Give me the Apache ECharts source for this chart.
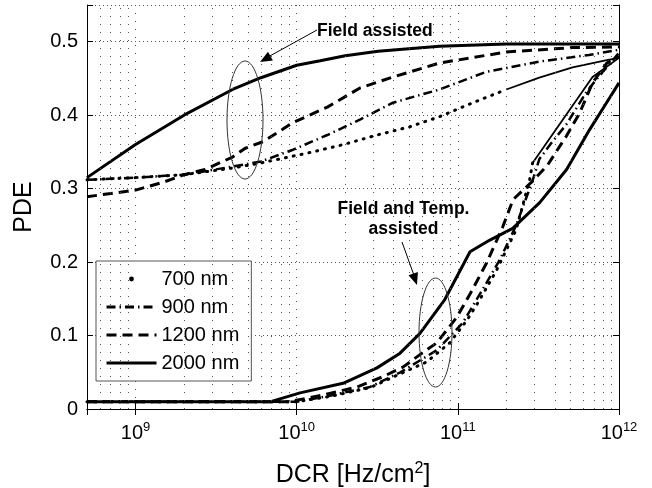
<!DOCTYPE html>
<html>
<head>
<meta charset="utf-8">
<script src="https://cdn.jsdelivr.net/npm/echarts@6/dist/echarts.min.js"></script>
<style>
html, body { margin: 0; padding: 0; background: #fff; }
#chart { width: 652px; height: 488px; }
</style>
</head>
<body>
<div id="chart"></div>
<script>
// axis range
const xMin = 5e8
const xMax = 1e12
const yTicks = [0, 0.1, 0.2, 0.3, 0.4, 0.5]

// field assisted (upper group)
const upper700 = [[5e8, 0.312], [1e9, 0.315], [2e9, 0.319], [4e9, 0.328], [6e9, 0.335], [1.2e10, 0.349], [1.95e10, 0.36], [3.15e10, 0.373], [5e10, 0.384], [7.7e10, 0.398], [1.24e11, 0.417], [2e11, 0.435]]
const upper700dense = [[2e11, 0.435], [3.2e11, 0.451], [5.15e11, 0.465], [8.4e11, 0.475], [1e12, 0.478]]
const upper900 = [[5e8, 0.312], [1e9, 0.315], [2e9, 0.319], [4e9, 0.33], [6e9, 0.337], [9.5e9, 0.353], [1.55e10, 0.373], [2.47e10, 0.394], [3.96e10, 0.417], [7.7e10, 0.435], [1.5e11, 0.459], [3.2e11, 0.473], [6.5e11, 0.482], [1e12, 0.489]]
const upper1200 = [[5e8, 0.289], [1e9, 0.298], [1.5e9, 0.309], [2e9, 0.319], [2.7e9, 0.326], [4e9, 0.343], [4.8e9, 0.355], [6.2e9, 0.364], [9.5e9, 0.39], [1.55e10, 0.411], [2.47e10, 0.437], [3.96e10, 0.452], [7.7e10, 0.471], [2e11, 0.486], [5.15e11, 0.492], [1e12, 0.493]]
const upper2000 = [[5e8, 0.315], [1e9, 0.36], [2e9, 0.4], [4e9, 0.435], [6e9, 0.451], [1e10, 0.468], [1.4e10, 0.474], [2e10, 0.481], [3.2e10, 0.487], [7.7e10, 0.494], [2e11, 0.497], [1e12, 0.497]]

// field and temp. assisted (lower group)
const lower700 = [[5e8, 0.01], [1e10, 0.01], [1.6e10, 0.017], [2.85e10, 0.029], [4.4e10, 0.048], [6.4e10, 0.064], [8.9e10, 0.09], [1.14e11, 0.121], [1.37e11, 0.149], [1.74e11, 0.189], [2.3e11, 0.244], [2.79e11, 0.312], [2.91e11, 0.335]]
const lower700dense = [[2.91e11, 0.335], [6.85e11, 0.452], [1e12, 0.478]]
const lower900 = [[5e8, 0.01], [1e10, 0.01], [1.6e10, 0.018], [2.85e10, 0.03], [4.4e10, 0.05], [7.4e10, 0.08], [1.07e11, 0.117], [1.51e11, 0.172], [1.82e11, 0.203], [2.3e11, 0.25], [2.9e11, 0.31], [3.2e11, 0.34], [3.8e11, 0.362], [4.7e11, 0.387], [6.3e11, 0.432], [7.2e11, 0.448], [1e12, 0.485]]
const lower1200 = [[5e8, 0.01], [9e9, 0.01], [1.46e10, 0.019], [2.37e10, 0.03], [3.43e10, 0.044], [4.56e10, 0.057], [5.82e10, 0.074], [7.4e10, 0.09], [9.86e10, 0.125], [1.2e11, 0.158], [1.51e11, 0.199], [1.9e11, 0.248], [2.2e11, 0.285], [2.9e11, 0.31], [3.6e11, 0.332], [4.7e11, 0.371], [5.7e11, 0.403], [6.85e11, 0.444], [8.4e11, 0.471], [1e12, 0.48]]
const lower2000 = [[5e8, 0.01], [6.9e9, 0.01], [1.05e10, 0.022], [1.94e10, 0.035], [3.15e10, 0.056], [4.38e10, 0.076], [5.82e10, 0.103], [8.3e10, 0.149], [1.19e11, 0.214], [1.58e11, 0.23], [2.19e11, 0.246], [3.22e11, 0.281], [4.73e11, 0.326], [6.56e11, 0.38], [8.37e11, 0.417], [1e12, 0.444]]

const legendNames = ['700 nm', '900 nm', '1200 nm', '2000 nm']

const font = '"Liberation Sans", Arial, Helvetica, sans-serif'

// minor grid positions 2..9 x 10^n inside the range
const minorX = []
for (let e = 8; e <= 11; e++) {
    for (let k = 2; k <= 9; k++) {
        const v = k * Math.pow(10, e)
        if (v > xMin && v < xMax) minorX.push(v)
    }
}

const dotted = { type: [1, 7], width: 3, color: '#000', cap: 'round' }
const dashDot = { type: [9, 4, 1.5, 4], width: 2.5, color: '#000' }
const dashed = { type: [10, 6], width: 3, color: '#000' }
const solid = { type: 'solid', width: 3, color: '#000' }
const dense = { type: 'solid', width: 1.8, color: '#000' }

function line(name, data, style) {
    return {
        type: 'line',
        name: name,
        data: data,
        symbol: 'none',
        lineStyle: style,
        itemStyle: { color: '#000' },
        z: 3
    }
}

const myChart = echarts.init(document.getElementById('chart'))

myChart.setOption({
    animation: false,
    backgroundColor: '#fff',
    textStyle: { fontFamily: font },
    grid: { left: 87, right: 33, top: 5, bottom: 79, outerBoundsMode: 'none', containLabel: false },
    legend: {
        orient: 'vertical',
        left: 96,
        top: 261,
        itemWidth: 50,
        itemHeight: 14,
        itemGap: 8,
        padding: [8, 12, 8, 9],
        backgroundColor: '#fff',
        borderColor: '#555',
        borderWidth: 1,
        borderRadius: 0,
        selectedMode: false,
        itemStyle: { opacity: 0 },
        lineStyle: { width: 3 },
        textStyle: { fontSize: 20, color: '#000', fontFamily: font, lineHeight: 20 },
        data: [
            { name: legendNames[0], icon: 'path://M0,0M50,14M22.6,7a2.4,2.4 0 1,0 4.8,0a2.4,2.4 0 1,0 -4.8,0', itemStyle: { color: '#000', opacity: 1 } },
            legendNames[1], legendNames[2], legendNames[3]
        ]
    },
    xAxis: [{
        type: 'log',
        logBase: 10,
        min: xMin,
        max: xMax,
        axisLine: { lineStyle: { color: '#000', width: 1 } },
        axisTick: { inside: true, length: 6, lineStyle: { color: '#000' } },
        axisLabel: {
            showMinLabel: false,
            margin: 12,
            color: '#000',
            formatter: function (v) {
                return '{b|10}{s|' + Math.round(Math.log10(v)) + '}'
            },
            rich: {
                b: { fontSize: 20, fontFamily: font, color: '#000', lineHeight: 22, verticalAlign: 'bottom' },
                s: { fontSize: 13, fontFamily: font, color: '#000', lineHeight: 22, verticalAlign: 'top' }
            }
        },
        splitLine: { show: true, lineStyle: { type: [1, 7], color: '#555', width: 1 } },
        name: 'DCR [Hz/cm{s|2}]',
        nameLocation: 'middle',
        nameGap: 52,
        nameTextStyle: {
            fontSize: 25,
            color: '#000',
            fontFamily: font,
            rich: {
                s: { fontSize: 16, fontFamily: font, color: '#000', verticalAlign: 'top', lineHeight: 28 }
            }
        }
    }, {
        type: 'log',
        logBase: 10,
        min: xMin,
        max: xMax,
        position: 'top',
        axisLine: { lineStyle: { color: '#000', width: 1 } },
        axisTick: { inside: true, length: 6, lineStyle: { color: '#000' } },
        axisLabel: { show: false },
        splitLine: { show: false }
    }],
    yAxis: [{
        type: 'value',
        min: 0,
        max: 0.55,
        interval: 0.1,
        axisLine: { show: true, lineStyle: { color: '#000', width: 1 } },
        axisTick: { show: true, inside: true, length: 6, lineStyle: { color: '#000' } },
        axisLabel: {
            margin: 9,
            fontSize: 20,
            color: '#000',
            fontFamily: font,
            formatter: function (v) {
                return yTicks.indexOf(Math.round(v * 10) / 10) >= 0 ? String(Math.round(v * 10) / 10) : ''
            }
        },
        splitLine: { show: true, lineStyle: { type: [1, 3], color: '#555', width: 1 } },
        name: 'PDE',
        nameLocation: 'middle',
        nameGap: 50,
        nameTextStyle: { fontSize: 25, color: '#000', fontFamily: font }
    }, {
        type: 'value',
        min: 0,
        max: 0.55,
        interval: 0.1,
        position: 'right',
        axisLine: { show: true, lineStyle: { color: '#000', width: 1 } },
        axisTick: { show: true, inside: true, length: 6, lineStyle: { color: '#000' } },
        axisLabel: { show: false },
        splitLine: { show: false }
    }],
    graphic: [
        { type: 'text', left: 317, top: 22, z: 10, style: { text: 'Field assisted', fontSize: 17.5, fontWeight: 'bold', fontFamily: font, fill: '#000' } },
        { type: 'line', z: 10, shape: { x1: 317, y1: 30, x2: 268, y2: 57 }, style: { stroke: '#000', lineWidth: 1 } },
        { type: 'polygon', z: 10, shape: { points: [[260, 62], [272.9, 60.5], [268, 51.8]] }, style: { fill: '#000' } },
        { type: 'ellipse', z: 10, shape: { cx: 245, cy: 120, rx: 18, ry: 59 }, style: { fill: 'none', stroke: '#333', lineWidth: 1 } },
        { type: 'text', z: 10, x: 403.5, y: 209, style: { text: 'Field and Temp.', fontSize: 17.5, fontWeight: 'bold', fontFamily: font, fill: '#000', align: 'center', verticalAlign: 'middle' } },
        { type: 'text', z: 10, x: 403.5, y: 229, style: { text: 'assisted', fontSize: 17.5, fontWeight: 'bold', fontFamily: font, fill: '#000', align: 'center', verticalAlign: 'middle' } },
        { type: 'line', z: 10, shape: { x1: 402, y1: 242, x2: 413.5, y2: 274 }, style: { stroke: '#000', lineWidth: 1 } },
        { type: 'polygon', z: 10, shape: { points: [[417, 285], [417.9, 272], [408.5, 275.2]] }, style: { fill: '#000' } },
        { type: 'ellipse', z: 10, shape: { cx: 435.5, cy: 332.5, rx: 16.5, ry: 54.5 }, style: { fill: 'none', stroke: '#333', lineWidth: 1 } }
    ],
    series: [
        {
            type: 'line',
            name: 'minor-grid',
            data: [],
            z: 1,
            markLine: {
                silent: true,
                symbol: 'none',
                animation: false,
                label: { show: false },
                lineStyle: { type: [1, 7], color: '#555', width: 1 },
                data: minorX.map(v => ({ xAxis: v }))
            }
        },
        line('700 nm', upper700, dotted),
        line('700 nm', upper700dense, dense),
        line('700 nm', lower700, dotted),
        line('700 nm', lower700dense, dense),
        line('900 nm', upper900, dashDot),
        line('900 nm', lower900, dashDot),
        line('1200 nm', upper1200, dashed),
        line('1200 nm', lower1200, dashed),
        line('2000 nm', upper2000, solid),
        line('2000 nm', lower2000, solid)
    ]
})
</script>
</body>
</html>
